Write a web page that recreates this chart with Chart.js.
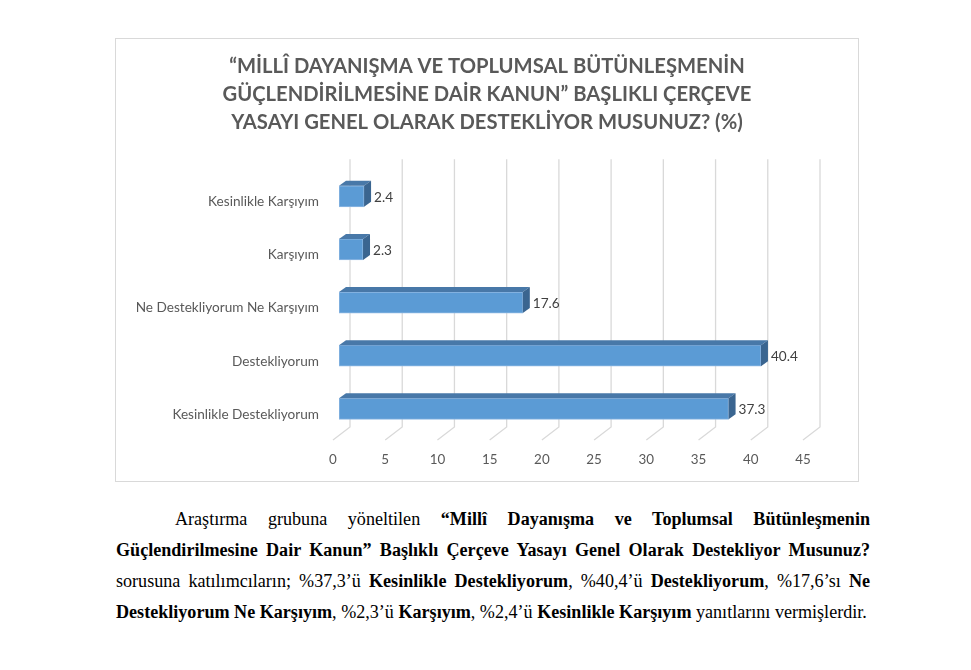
<!DOCTYPE html>
<html lang="tr">
<head>
<meta charset="utf-8">
<title>Millî Dayanışma anketi</title>
<script src="https://cdn.jsdelivr.net/npm/chart.js@4.4.1/dist/chart.umd.min.js"></script>
<style>
  html, body { margin: 0; padding: 0; background: #fff; }
  body { width: 971px; height: 670px; position: relative; overflow: hidden; }
  #chart-box {
    position: absolute; left: 115px; top: 38px; width: 744px; height: 444px;
    border: 1px solid #d9d9d9; box-sizing: border-box;
  }
  #chart-box canvas { display: block; }
  #text {
    position: absolute; left: 116px; top: 504px; width: 754px;
    font-family: "Liberation Serif", "Times New Roman", serif;
    font-size: 18.1px; line-height: 31px; color: #000;
  }
  #text .l { text-align: justify; text-align-last: justify; }
  #text .first { text-indent: 59px; }
  #text .last { text-align: left; text-align-last: left; white-space: nowrap; }
</style>
</head>
<body>
<div id="chart-box"><canvas id="chart"></canvas></div>

<div id="text">
  <div class="l first">Araştırma grubuna yöneltilen <b>“Millî Dayanışma ve Toplumsal Bütünleşmenin</b></div>
  <div class="l"><b>Güçlendirilmesine Dair Kanun” Başlıklı Çerçeve Yasayı Genel Olarak Destekliyor Musunuz?</b></div>
  <div class="l">sorusuna katılımcıların; %37,3’ü <b>Kesinlikle Destekliyorum</b>, %40,4’ü <b>Destekliyorum</b>, %17,6’sı <b>Ne</b></div>
  <div class="l last"><b>Destekliyorum Ne Karşıyım</b>, %2,3’ü <b>Karşıyım</b>, %2,4’ü <b>Kesinlikle Karşıyım</b> yanıtlarını vermişlerdir.</div>
</div>

<script>
// chart data
const categories = [
    'Kesinlikle Karşıyım',
    'Karşıyım',
    'Ne Destekliyorum Ne Karşıyım',
    'Destekliyorum',
    'Kesinlikle Destekliyorum'
];
const percentValues = [2.4, 2.3, 17.6, 40.4, 37.3];
const axisMin = 0;
const axisMax = 45;
const axisStep = 5;
const titleLines = [
    '“MİLLÎ DAYANIŞMA VE TOPLUMSAL BÜTÜNLEŞMENİN',
    'GÜÇLENDİRİLMESİNE DAİR KANUN” BAŞLIKLI ÇERÇEVE',
    'YASAYI GENEL OLARAK DESTEKLİYOR MUSUNUZ? (%)'
];

// fake 3D look (bar depth + back wall / floor offsets)
const depth = { dx: 7, dy: 5 };
const wall = { dx: 11, top: 10.4, back: 8.4, frontDx: -6, front: 4.6 };

const bars3d = {
    id: 'bars3d',
    beforeDatasetsDraw(chart) {
        const { ctx, chartArea, scales: { x } } = chart;
        ctx.save();
        ctx.strokeStyle = '#d9d9d9';
        ctx.lineWidth = 1.3;
        x.ticks.forEach(t => {
            const px = x.getPixelForValue(t.value);
            ctx.beginPath();
            ctx.moveTo(px + wall.dx, chartArea.top - wall.top);
            ctx.lineTo(px + wall.dx, chartArea.bottom - wall.back);
            ctx.lineTo(px + wall.frontDx, chartArea.bottom + wall.front);
            ctx.stroke();
        });
        ctx.restore();
    },
    afterDatasetsDraw(chart) {
        const { ctx } = chart;
        const meta = chart.getDatasetMeta(0);
        ctx.save();
        meta.data.forEach((bar, i) => {
            const { x, y, base, height } = bar.getProps(['x', 'y', 'base', 'height'], true);
            const top = y - height / 2;
            const bottom = y + height / 2;

            // top face
            ctx.fillStyle = '#4878a8';
            ctx.beginPath();
            ctx.moveTo(base, top);
            ctx.lineTo(x, top);
            ctx.lineTo(x + depth.dx, top - depth.dy);
            ctx.lineTo(base + depth.dx, top - depth.dy);
            ctx.closePath();
            ctx.fill();

            // right side face
            ctx.fillStyle = '#3a6590';
            ctx.beginPath();
            ctx.moveTo(x, top);
            ctx.lineTo(x + depth.dx, top - depth.dy);
            ctx.lineTo(x + depth.dx, bottom - depth.dy);
            ctx.lineTo(x, bottom);
            ctx.closePath();
            ctx.fill();

            // value label
            ctx.fillStyle = '#404040';
            ctx.font = '13.6px Lato';
            ctx.textBaseline = 'middle';
            ctx.textAlign = 'left';
            ctx.fillText(String(percentValues[i]), x + depth.dx + 3, y + 1);
        });
        ctx.restore();
    }
};

new Chart(document.getElementById('chart'), {
    type: 'bar',
    data: {
        labels: categories,
        datasets: [{
            data: percentValues,
            backgroundColor: '#5b9bd5',
            borderColor: '#8fb8e3',
            borderWidth: 1,
            borderSkipped: false,
            barThickness: 21
        }]
    },
    options: {
        indexAxis: 'y',
        responsive: true,
        maintainAspectRatio: false,
        animation: false,
        layout: { padding: 0 },
        plugins: {
            legend: { display: false },
            tooltip: { enabled: false },
            title: {
                display: true,
                text: titleLines,
                color: '#595959',
                font: { family: 'Lato', size: 20.2, weight: 'bold', lineHeight: 1.4 },
                padding: { top: 12.9, bottom: 33 }
            }
        },
        scales: {
            x: {
                min: axisMin,
                max: axisMax,
                ticks: {
                    stepSize: axisStep,
                    color: '#595959',
                    font: { family: 'Lato', size: 13.4 },
                    labelOffset: -6,
                    padding: 16
                },
                grid: { display: false, drawTicks: false },
                border: { display: false },
                afterFit(s) { s.height = 45.6; }
            },
            y: {
                ticks: {
                    color: '#595959',
                    font: { family: 'Lato', size: 13.6 },
                    padding: 20,
                    labelOffset: 5.5
                },
                grid: { display: false, drawTicks: false },
                border: { display: false },
                afterFit(s) { s.width = 223; }
            },
            // empty right-hand axis, only keeps room on the right so the title stays centred on the box
            spacer: {
                type: 'linear',
                position: 'right',
                ticks: { display: false },
                grid: { display: false, drawTicks: false },
                border: { display: false },
                afterFit(s) { s.width = 49; }
            }
        }
    },
    plugins: [bars3d]
});
</script>
</body>
</html>
